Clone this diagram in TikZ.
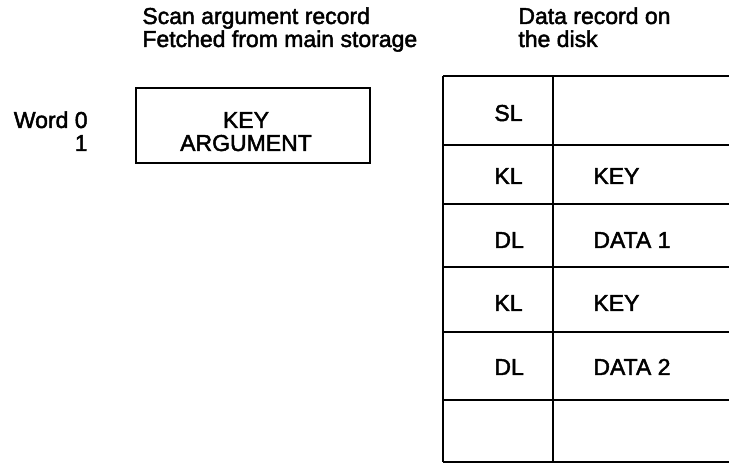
\documentclass[tikz,border=0pt]{standalone}
\usepackage{fontspec}
\setmainfont{Liberation Sans}[FakeBold=2]
\usetikzlibrary{positioning,calc}

\begin{document}
\begin{tikzpicture}[
  x=0.5pt,
  y=-0.5pt,
  txt/.style={
    font=\fontsize{11.5}{11}\selectfont,
    inner sep=0pt
  },
  hdr/.style={
    txt,
    anchor=base west
  },
  rec/.style={
    draw,
    line width=1pt
  },
  rule/.style={
    line width=1.3pt
  }
]
\useasboundingbox (0,0) rectangle (729,464);

% Headings
\node[hdr] (scan)  at (142,24) {Scan argument record};
\node[hdr] (fetch) at (142,47) {Fetched from main storage};
\node[hdr] (data)  at (518,24) {Data record on};
\node[hdr] (disk)  at (518,47) {the disk};

% Scan argument record
\node[txt,anchor=base east] (word0) at (88,128) {Word 0};
\node[txt,anchor=base east] (word1) at (88,151) {1};
\coordinate (argnw) at (136,88);
\coordinate (argse) at (370,163);
\draw[rec] (argnw) rectangle (argse);
\node[txt,anchor=base] (key)  at (246,128) {KEY};
\node[txt,anchor=base] (argm) at (246,151) {ARGUMENT};

% Data record on the disk
\coordinate (dtop) at (443,76);
\coordinate (dbot) at (443,462);
\draw[rule] (dtop) -- (dbot);
\draw[rule] ($(dtop)+(110,0)$) -- ($(dbot)+(110,0)$);
\foreach \y in {76,145,204,267,332,400,462}
  \draw[rule] (443,\y) -- (729,\y);

\foreach \len/\fld/\y [count=\i] in {SL//121,KL/KEY/184,DL/DATA 1/248,KL/KEY/311,DL/DATA 2/375}{
  \node[txt,anchor=base west] (len\i) at (494,\y) {\len};
  \node[txt,anchor=base west] (fld\i) at (593,\y) {\fld};
}

\end{tikzpicture}
\end{document}
